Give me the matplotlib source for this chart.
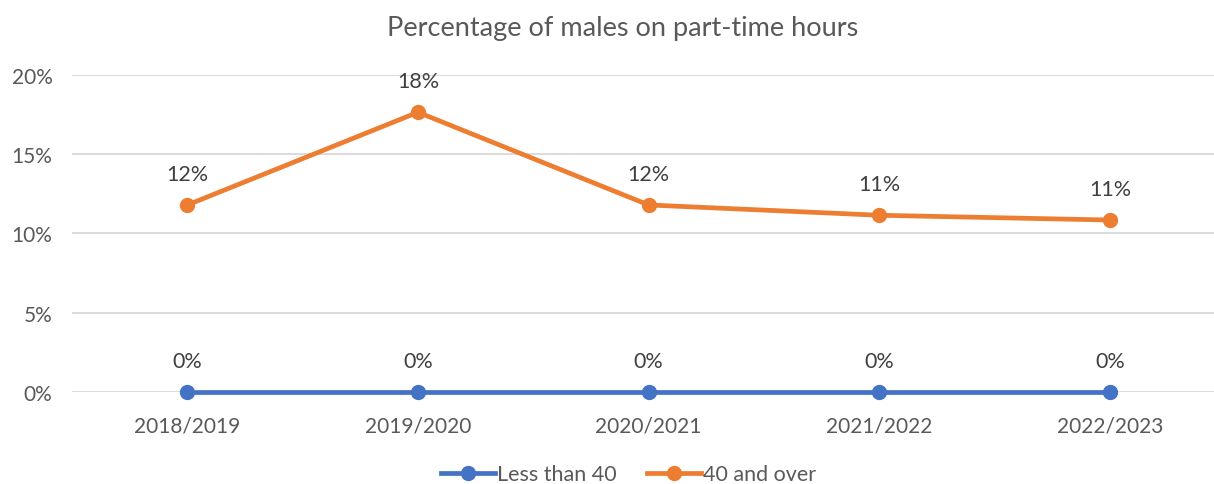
import matplotlib.pyplot as plt
from matplotlib.ticker import PercentFormatter

plt.rcParams['font.family'] = ['Lato', 'DejaVu Sans']

# -------------------------
# DATA
# -------------------------
years = ["2018/2019", "2019/2020", "2020/2021", "2021/2022", "2022/2023"]
less_than_40 = [0.0, 0.0, 0.0, 0.0, 0.0]
forty_and_over = [11.8, 17.65, 11.8, 11.15, 10.85]

grey = "#595959"
blue = "#4472C4"
orange = "#ED7D31"

# -------------------------
# PLOT
# -------------------------
fig = plt.figure(figsize=(12.14, 4.85), dpi=100)
ax = fig.add_axes([0.0593, 0.1897, 0.950, 0.6536])

x = range(len(years))
ax.plot(x, less_than_40, color=blue, lw=3.4, marker="o", ms=10,
        label="Less than 40", zorder=3, clip_on=False)
ax.plot(x, forty_and_over, color=orange, lw=3.4, marker="o", ms=10,
        label="40 and over", zorder=3, clip_on=False)

for i, v in enumerate(less_than_40):
    ax.annotate(f"{v:.0f}%", (i, v), xytext=(0, 15), textcoords="offset points",
                ha="center", va="bottom", fontsize=15.5, color="#404040")
for i, v in enumerate(forty_and_over):
    ax.annotate(f"{v:.0f}%", (i, v), xytext=(0, 15), textcoords="offset points",
                ha="center", va="bottom", fontsize=15.5, color="#404040")

ax.set_xlim(-0.5, len(years) - 0.5)
ax.set_ylim(0, 20)
ax.set_yticks([0, 5, 10, 15, 20])
ax.yaxis.set_major_formatter(PercentFormatter(decimals=0))
ax.set_xticks(list(x))
ax.set_xticklabels(years)
ax.tick_params(axis="both", length=0, labelsize=15, labelcolor=grey)
ax.tick_params(axis="x", pad=17)
ax.tick_params(axis="y", pad=14)
ax.grid(axis="y", color="#d9d9d9", lw=1.3)
ax.set_axisbelow(True)
for s in ax.spines.values():
    s.set_visible(False)

fig.text(0.513, 0.942, "Percentage of males on part-time hours", ha="center",
         va="center", fontsize=19.5, color=grey)

fig.legend(loc="center", bbox_to_anchor=(0.518, 0.02), ncol=2, frameon=False,
           fontsize=15.5, labelcolor=grey, handlelength=2.5, handletextpad=0.1,
           columnspacing=1.4)

fig.savefig("out.png", dpi=100)
